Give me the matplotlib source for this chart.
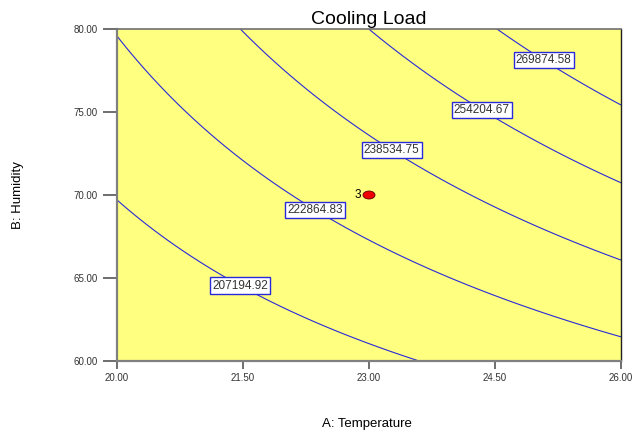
import numpy as np
import matplotlib
matplotlib.use("Agg")
import matplotlib.pyplot as plt
from matplotlib.patches import Ellipse

plt.rcParams['font.family'] = ['Liberation Sans', 'DejaVu Sans']

# --- contour levels shown on the chart ---
levels = [207194.92, 222864.83, 238534.75, 254204.67, 269874.58]

# --- points (A: Temperature, B: Humidity) ---
c1_A = [20.0, 20.595, 22.42, 23.1, 23.57]
c1_B = [69.73, 67.29, 62.17, 60.84, 60.0]
c2_A = [20.0, 20.75, 21.345, 22.14, 23.05, 24.5, 26.0]
c2_B = [79.64, 75.3, 72.71, 69.82, 67.2, 64.1, 61.45]
c3_A = [21.46, 22.42, 23.31, 24.5, 24.8, 26.0]
c3_B = [80.0, 75.72, 72.59, 69.28, 68.5, 66.08]
c4_A = [22.99, 24.38, 25.0, 26.0]
c4_B = [80.0, 75.0, 73.13, 70.72]
c5_A = [24.5, 25.1, 26.0]
c5_B = [80.0, 78.3, 75.36]

# where the labels sit
label_A = [21.49, 22.39, 23.30, 24.37, 25.10]
label_B = [64.76, 69.40, 72.95, 75.36, 78.31]

# design point
pt_A = [23.0]
pt_B = [70.0]
pt_count = [3]

# --- fit a quadratic response surface through the contour points ---
A_all, B_all, Y_all = [], [], []
for lev, aa, bb in zip(levels, [c1_A, c2_A, c3_A, c4_A, c5_A],
                       [c1_B, c2_B, c3_B, c4_B, c5_B]):
    A_all += aa
    B_all += bb
    Y_all += [lev] * len(aa)
A_all = np.array(A_all)
B_all = np.array(B_all)
Y_all = np.array(Y_all)


def design(A, B):
    a = (A - 23.0) / 3.0
    b = (B - 70.0) / 10.0
    return np.stack([np.ones_like(a), a, b, a * b, a * a, b * b], axis=-1)


coef, *_ = np.linalg.lstsq(design(A_all, B_all), Y_all, rcond=None)

gA, gB = np.meshgrid(np.linspace(20, 26, 241), np.linspace(60, 80, 241))
gY = design(gA, gB) @ coef

# --- figure ---
fig = plt.figure(figsize=(6.33, 4.34), dpi=100)
ax = fig.add_axes([117 / 633, 1 - 361 / 434, 504 / 633, 332 / 434])
ax.set_facecolor('#FFFF80')

cs = ax.contour(gA, gB, gY, levels=levels, colors='#2a2ad8', linewidths=0.8)
texts = ax.clabel(cs, fmt='%.2f', inline=False, fontsize=8.5,
                  manual=list(zip(label_A, label_B)))
for t in texts:
    t.set_rotation(0)
    t.set_color('#333333')
    t.set_bbox(dict(boxstyle='square,pad=0.18', fc='white', ec='#2a2ad8', lw=1.0))

for a, b, n in zip(pt_A, pt_B, pt_count):
    ax.add_patch(Ellipse((a, b), 12 / 504 * 6, 8 / 332 * 20, fc='#ee0000',
                         ec='#600000', lw=0.6, zorder=5))
    ax.annotate(str(n), (a, b), xytext=(-6, 0), textcoords='offset points',
                ha='right', va='center', fontsize=8.5, color='black')

ax.set_xlim(20, 26)
ax.set_ylim(60, 80)
ax.set_xticks([20.0, 21.5, 23.0, 24.5, 26.0])
ax.set_yticks([60, 65, 70, 75, 80])
ax.xaxis.set_major_formatter(matplotlib.ticker.FormatStrFormatter('%.2f'))
ax.yaxis.set_major_formatter(matplotlib.ticker.FormatStrFormatter('%.2f'))
ax.tick_params(axis='x', length=5.5, width=1.2, color='#555555', pad=3,
               labelsize=7, labelcolor='#333333')
ax.tick_params(axis='y', length=10, width=1.2, color='#555555', pad=4,
               labelsize=7, labelcolor='#333333')

for side in ['left', 'bottom']:
    ax.spines[side].set_color('#808080')
    ax.spines[side].set_linewidth(1.6)
ax.spines['top'].set_color('#707070')
ax.spines['top'].set_linewidth(1.2)
ax.spines['right'].set_color('#202020')
ax.spines['right'].set_linewidth(1.0)

ax.set_title('Cooling Load', fontsize=14, pad=3.5)
ax.set_xlabel('A: Temperature', fontsize=9.5, va='center')
ax.xaxis.set_label_coords(0.495, -0.19)
ax.set_ylabel('B: Humidity', fontsize=9.5, va='center')
ax.yaxis.set_label_coords(-0.196, 0.5)

fig.savefig('out.png', dpi=100)
